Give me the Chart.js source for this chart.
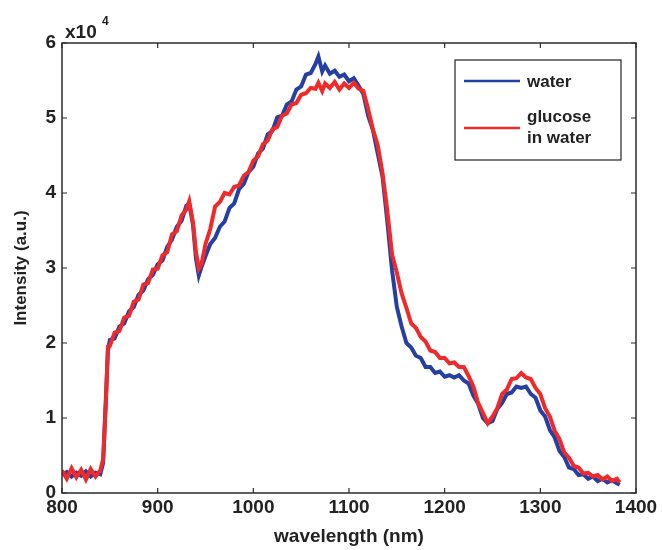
<!DOCTYPE html>
<html>
<head>
<meta charset="utf-8">
<script src="https://cdn.jsdelivr.net/npm/chart.js@4"></script>
<style>
html,body{margin:0;padding:0;background:#fff;}
#wrap{width:662px;height:550px;position:relative;}
</style>
</head>
<body>
<div id="wrap"><canvas id="c" width="662" height="550"></canvas></div>
<script>
// wavelength (nm)
const wavelengths = [800,805,810,815,820,825,830,835,840,843,846,848,850,855,860,865,870,875,880,885,890,895,900,905,910,915,920,925,930,933,937,940,943,946,950,955,960,965,970,975,980,985,990,995,1000,1005,1010,1015,1020,1025,1030,1035,1040,1045,1050,1055,1060,1065,1068,1072,1075,1080,1085,1090,1095,1100,1105,1110,1115,1120,1125,1130,1135,1140,1145,1150,1155,1160,1165,1170,1175,1180,1185,1190,1195,1200,1205,1210,1215,1220,1225,1230,1235,1240,1245,1250,1255,1260,1265,1270,1275,1280,1285,1290,1295,1300,1305,1310,1315,1320,1325,1330,1335,1340,1345,1350,1355,1360,1365,1370,1375,1380,1383];
// intensity, units of 10^4
const water = [0.24,0.28,0.22,0.27,0.23,0.29,0.22,0.27,0.25,0.40,1.30,1.90,2.04,2.06,2.22,2.26,2.42,2.48,2.64,2.70,2.85,2.91,3.05,3.10,3.28,3.38,3.55,3.63,3.83,3.85,3.57,3.13,2.90,3.02,3.16,3.32,3.40,3.55,3.62,3.80,3.86,4.05,4.12,4.28,4.35,4.53,4.59,4.78,4.83,5.01,5.03,5.18,5.22,5.38,5.42,5.58,5.60,5.72,5.82,5.62,5.70,5.59,5.63,5.55,5.58,5.49,5.53,5.43,5.32,5.03,4.84,4.53,4.22,3.63,2.97,2.48,2.22,2.00,1.94,1.83,1.80,1.68,1.68,1.60,1.62,1.55,1.57,1.54,1.57,1.50,1.46,1.30,1.19,1.00,0.93,0.96,1.12,1.20,1.32,1.34,1.42,1.40,1.42,1.32,1.27,1.10,1.02,0.84,0.74,0.56,0.48,0.34,0.32,0.24,0.25,0.19,0.22,0.16,0.19,0.14,0.17,0.13,0.11];
const glucose = [0.30,0.19,0.33,0.21,0.31,0.18,0.32,0.22,0.30,0.45,1.25,1.95,1.96,2.14,2.16,2.34,2.36,2.55,2.58,2.78,2.80,2.98,2.99,3.17,3.21,3.45,3.49,3.70,3.78,3.89,3.60,3.22,2.99,3.06,3.32,3.52,3.82,3.88,4.00,3.98,4.08,4.10,4.23,4.28,4.43,4.49,4.65,4.70,4.85,4.88,5.03,5.06,5.18,5.20,5.31,5.33,5.40,5.39,5.47,5.36,5.46,5.40,5.48,5.38,5.46,5.40,5.47,5.39,5.36,5.12,4.85,4.64,4.27,3.77,3.18,2.94,2.66,2.47,2.26,2.20,2.08,2.02,1.90,1.88,1.80,1.80,1.73,1.74,1.68,1.68,1.56,1.42,1.20,1.07,0.93,1.02,1.13,1.32,1.38,1.52,1.53,1.60,1.54,1.52,1.40,1.32,1.13,1.02,0.83,0.72,0.54,0.47,0.36,0.34,0.26,0.27,0.22,0.24,0.18,0.22,0.16,0.19,0.14];
const xTicks = [800,900,1000,1100,1200,1300,1400];
const yTicks = [0,1,2,3,4,5,6];
const seriesNames = ["water", "glucose", "in water"];

const BLUE = '#2440a4';
const RED = '#ee2a2a';
const FONT = '"Liberation Sans", Arial, sans-serif';

const framePlugin = {
  id: 'frame',
  afterDatasetsDraw(chart) {
    const {ctx, chartArea: a, scales: {x, y}} = chart;
    ctx.save();
    ctx.strokeStyle = '#2b2b2b';
    ctx.lineWidth = 1.5;
    ctx.strokeRect(a.left, a.top, a.right - a.left, a.bottom - a.top);
    ctx.lineWidth = 1.2;
    const L = 5;
    ctx.beginPath();
    xTicks.forEach(v => {
      const px = x.getPixelForValue(v);
      ctx.moveTo(px, a.bottom); ctx.lineTo(px, a.bottom - L);
      ctx.moveTo(px, a.top); ctx.lineTo(px, a.top + L);
    });
    yTicks.forEach(v => {
      const py = y.getPixelForValue(v);
      ctx.moveTo(a.left, py); ctx.lineTo(a.left + L, py);
      ctx.moveTo(a.right, py); ctx.lineTo(a.right - L, py);
    });
    ctx.stroke();

    // exponent label
    ctx.fillStyle = '#222';
    ctx.font = 'bold 19px ' + FONT;
    ctx.textBaseline = 'alphabetic';
    ctx.textAlign = 'left';
    ctx.fillText('x10', a.left + 3, a.top - 5);
    ctx.font = 'bold 12px ' + FONT;
    ctx.fillText('4', a.left + 40, a.top - 18);

    // legend
    const bx = 455, by = 60, bw = 166, bh = 100;
    ctx.fillStyle = '#fff';
    ctx.fillRect(bx, by, bw, bh);
    ctx.strokeStyle = '#333';
    ctx.lineWidth = 1.3;
    ctx.strokeRect(bx, by, bw, bh);
    ctx.lineWidth = 2.5;
    ctx.strokeStyle = chart.data.datasets[1].borderColor;
    ctx.beginPath(); ctx.moveTo(464, 81); ctx.lineTo(520, 81); ctx.stroke();
    ctx.strokeStyle = chart.data.datasets[0].borderColor;
    ctx.beginPath(); ctx.moveTo(464, 128); ctx.lineTo(520, 128); ctx.stroke();
    ctx.fillStyle = '#222';
    ctx.font = 'bold 17px ' + FONT;
    ctx.textBaseline = 'middle';
    ctx.fillText(seriesNames[0], 527, 82);
    ctx.fillText(seriesNames[1], 527, 117);
    ctx.fillText(seriesNames[2], 527, 138);
    ctx.restore();
  }
};

new Chart(document.getElementById('c'), {
  type: 'line',
  data: {
    datasets: [
      {
        label: 'glucose in water',
        data: wavelengths.map((w, i) => ({x: w, y: glucose[i]})),
        borderColor: RED,
        borderWidth: 4,
        pointRadius: 0,
        tension: 0,
        order: 1
      },
      {
        label: 'water',
        data: wavelengths.map((w, i) => ({x: w, y: water[i]})),
        borderColor: BLUE,
        borderWidth: 4,
        pointRadius: 0,
        tension: 0,
        order: 2
      }
    ]
  },
  plugins: [framePlugin],
  options: {
    responsive: false,
    animation: false,
    layout: {padding: {top: 43, right: 26, left: 0, bottom: 0}},
    plugins: {legend: {display: false}, tooltip: {enabled: false}},
    scales: {
      x: {
        type: 'linear',
        min: 800, max: 1400,
        afterBuildTicks: s => { s.ticks = xTicks.map(v => ({value: v})); },
        afterFit: s => { s.height = 57; },
        grid: {display: false, drawTicks: false},
        border: {display: false},
        ticks: {color: '#222', font: {family: FONT, size: 19, weight: 'bold'}, padding: 3, maxRotation: 0, callback: v => String(v)},
        title: {display: true, text: 'wavelength (nm)', color: '#222', font: {family: FONT, size: 19, weight: 'bold'}, padding: {top: 0, bottom: 2}}
      },
      y: {
        min: 0, max: 6,
        afterBuildTicks: s => { s.ticks = yTicks.map(v => ({value: v})); },
        afterFit: s => { s.width = 62; },
        grid: {display: false, drawTicks: false},
        border: {display: false},
        ticks: {color: '#222', font: {family: FONT, size: 19, weight: 'bold'}, padding: 6, callback: v => String(v)},
        title: {display: true, text: 'Intensity (a.u.)', color: '#222', font: {family: FONT, size: 17, weight: 'bold'}, padding: {top: 11, bottom: 4}}
      }
    }
  }
});
</script>
</body>
</html>
